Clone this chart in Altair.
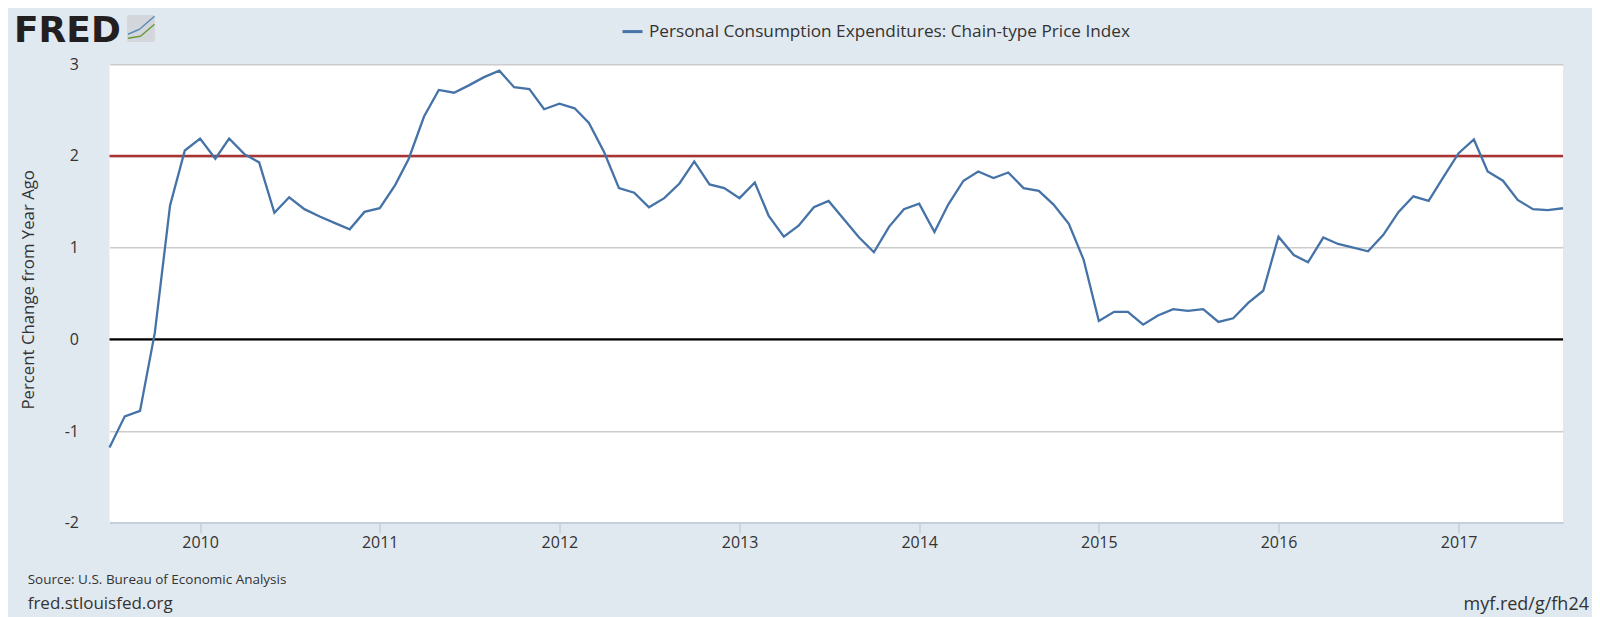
import altair as alt
import pandas as pd

# ---------------- data ----------------
months = pd.date_range("2009-07-01", "2017-08-01", freq="MS").strftime("%Y-%m-%d").tolist()
values = [
    -1.18, -0.84, -0.78, 0.07, 1.46, 2.06, 2.19, 1.97, 2.19, 2.02, 1.93, 1.38,
    1.55, 1.42, 1.34, 1.27, 1.20, 1.39, 1.43, 1.68, 1.97, 2.43, 2.72, 2.69,
    2.77, 2.86, 2.93, 2.75, 2.73, 2.51, 2.57, 2.52, 2.36, 2.04, 1.65, 1.60,
    1.44, 1.54, 1.70, 1.94, 1.69, 1.65, 1.54, 1.71, 1.35, 1.12, 1.24, 1.44,
    1.51, 1.31, 1.11, 0.95, 1.23, 1.42, 1.48, 1.17, 1.47, 1.73, 1.83, 1.76,
    1.82, 1.65, 1.62, 1.47, 1.26, 0.87, 0.20, 0.30, 0.30, 0.16, 0.26, 0.33,
    0.31, 0.33, 0.19, 0.23, 0.40, 0.53, 1.12, 0.92, 0.84, 1.11, 1.04, 1.00,
    0.96, 1.14, 1.39, 1.56, 1.51, 1.77, 2.03, 2.18, 1.83, 1.73, 1.52, 1.42,
    1.41, 1.43,
]
series_name = "Personal Consumption Expenditures: Chain-type Price Index"
ref_levels = [2, 0]
ref_colors = ["#AA3333", "#000000"]
y_ticks = [-2, -1, 0, 1, 2, 3]

df = pd.DataFrame({"date": months, "value": values, "series": series_name})
ref = pd.DataFrame({"level": ref_levels, "color": ref_colors})

W = 1453.5
H = 458.4
FONT = "Open Sans"
TXT = "#333333"

x_enc = alt.X(
    "date:T",
    scale=alt.Scale(
        type="utc",
        domain=[
            alt.DateTime(year=2009, month=7, date=1, utc=True),
            alt.DateTime(year=2017, month=8, date=1, utc=True),
        ],
        nice=False,
    ),
    axis=alt.Axis(
        title=None, format="%Y", tickCount="year", grid=False,
        domainColor="#C0D0E0", domainWidth=1.5, tickColor="#C0D0E0",
        tickWidth=1.5, tickSize=10, labelFont=FONT, labelFontSize=16,
        labelColor=TXT, labelPadding=2,
    ),
)
y_enc = alt.Y(
    "value:Q",
    scale=alt.Scale(domain=[-2, 3], nice=False, zero=False),
    axis=alt.Axis(
        values=y_ticks, labelExpr="'' + datum.value",
        title="Percent Change from Year Ago", grid=True,
        gridColor="#CCCCCC", gridWidth=1.5, domain=False, ticks=False,
        tickSize=0, labelPadding=31, labelFont=FONT, labelFontSize=16,
        labelColor=TXT, titleFont=FONT, titleFontSize=16.8,
        titleFontWeight="normal", titleColor=TXT, titleX=-81.5, titleY=225,
        titleAngle=270, titleAlign="center", titleBaseline="middle",
    ),
)

line = alt.Chart(df).mark_line(strokeWidth=2.3).encode(
    x=x_enc,
    y=y_enc,
    color=alt.Color(
        "series:N",
        scale=alt.Scale(domain=[series_name], range=["#4572A7"]),
        legend=alt.Legend(
            orient="none", legendX=511.5, legendY=-44.2, title=None,
            symbolType="stroke", symbolStrokeWidth=3, symbolSize=400,
            labelFont=FONT, labelFontSize=17.2, labelFontWeight="normal",
            labelColor=TXT, labelOffset=5, labelLimit=1000, padding=0,
        ),
    ),
)

rules = alt.Chart(ref).mark_rule(strokeWidth=2.4).encode(
    y=alt.Y("level:Q"),
    color=alt.Color("color:N", scale=None),
)

one = alt.Data(values=[{}])

fred = alt.Chart(one).mark_text(
    font="DejaVu Sans", fontWeight="bold", fontSize=36, align="left",
    baseline="alphabetic", color="#231F20",
).encode(x=alt.value(-95.5), y=alt.value(-22.3), text=alt.value("FRED"))

icon = alt.Chart(one).mark_rect(color="#D3D7DB", cornerRadius=2).encode(
    x=alt.value(17.5), x2=alt.value(45.5), y=alt.value(-49.3), y2=alt.value(-22.3)
)
icon_blue = alt.Chart(one).mark_rule(color="#5B8DB8", strokeWidth=1.5).encode(
    x=alt.value(18.5), x2=alt.value(30), y=alt.value(-30), y2=alt.value(-35)
)
icon_blue2 = alt.Chart(one).mark_rule(color="#5B8DB8", strokeWidth=1.5).encode(
    x=alt.value(30), x2=alt.value(45), y=alt.value(-35), y2=alt.value(-48)
)
icon_green = alt.Chart(one).mark_rule(color="#6A9A3A", strokeWidth=1.5).encode(
    x=alt.value(18.5), x2=alt.value(31), y=alt.value(-26), y2=alt.value(-28)
)
icon_green2 = alt.Chart(one).mark_rule(color="#6A9A3A", strokeWidth=1.5).encode(
    x=alt.value(31), x2=alt.value(45), y=alt.value(-28), y2=alt.value(-40)
)

source = alt.Chart(one).mark_text(
    font=FONT, fontSize=13.5, align="left", baseline="middle", color=TXT
).encode(x=alt.value(-81.8), y=alt.value(515.7),
         text=alt.value("Source: U.S. Bureau of Economic Analysis"))

site = alt.Chart(one).mark_text(
    font=FONT, fontSize=17, align="left", baseline="middle", color=TXT
).encode(x=alt.value(-81.8), y=alt.value(539.7),
         text=alt.value("fred.stlouisfed.org"))

short = alt.Chart(one).mark_text(
    font=FONT, fontSize=18, align="right", baseline="middle", color=TXT
).encode(x=alt.value(1479.5), y=alt.value(540.7),
         text=alt.value("myf.red/g/fh24"))

chart = alt.layer(
    rules, line, fred, icon, icon_blue, icon_blue2, icon_green, icon_green2,
    source, site, short,
).properties(
    width=W, height=H,
    padding={"left": 101.5, "top": 56.3, "right": 29, "bottom": 95},
    autosize="none",
    background="#E1E9F0",
).configure_view(
    fill="#FFFFFF", strokeWidth=0
)

chart.save("out.html", embed_options={"renderer": "svg", "actions": False})
